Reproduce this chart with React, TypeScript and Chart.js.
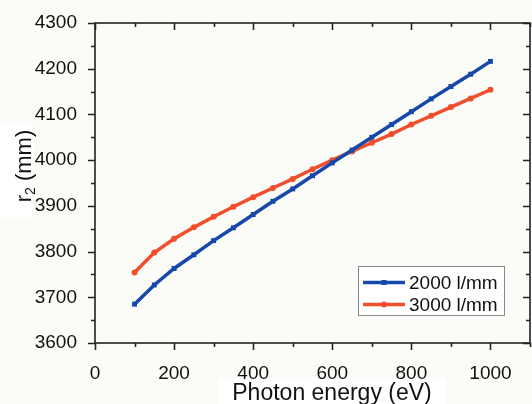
import React, { useEffect, useRef } from "react";
import { Chart, registerables } from "chart.js";

Chart.register(...registerables);

const energies = [100, 150, 200, 250, 300, 350, 400, 450, 500, 550, 600, 650, 700, 750, 800, 850, 900, 950, 1000];
const r2_2000 = [3685, 3727, 3763, 3793, 3824, 3852, 3881, 3910, 3937, 3966, 3994, 4022, 4050, 4078, 4106, 4134, 4161, 4188, 4216];
const r2_3000 = [3754, 3798, 3828, 3853, 3876, 3898, 3919, 3939, 3959, 3980, 4000, 4019, 4038, 4057, 4078, 4097, 4116, 4135, 4154];
const xTickValues = [0, 200, 400, 600, 800, 1000];
const seriesLabels = ["2000 l/mm", "3000 l/mm"];
const xTitle = "Photon energy (eV)";
const yTitleMain = "r";
const yTitleSub = "2";
const yTitleRest = " (mm)";

const FONT = "'Liberation Sans', Arial, Helvetica, sans-serif";
const BLUE = "rgb(22,72,170)";
const RED = "rgb(240,78,44)";

const framePlugin = {
  id: "framePlugin",
  beforeDraw(chart: any) {
    const { ctx, width, height } = chart;
    ctx.save();
    ctx.fillStyle = "#fbfbf8";
    ctx.fillRect(0, 0, width, height);
    ctx.fillStyle = "#ffffff";
    ctx.fillRect(0, 122, 33, 96);
    ctx.fillRect(218, 378, 228, 26);
    ctx.restore();
  },
  afterDraw(chart: any) {
    const { ctx, chartArea, scales } = chart;
    const { left, right, top, bottom } = chartArea;
    const xs = scales.x;
    const ys = scales.y;
    ctx.save();
    ctx.strokeStyle = "#222222";
    ctx.lineWidth = 1.6;
    ctx.strokeRect(left, top, right - left, bottom - top);
    ctx.beginPath();
    for (let v = 0; v <= 1100; v += 100) {
      const px = Math.round(xs.getPixelForValue(v)) + 0.5;
      const len = v % 200 === 0 ? 7 : 4;
      ctx.moveTo(px, bottom);
      ctx.lineTo(px, bottom + len);
      ctx.moveTo(px, top);
      ctx.lineTo(px, top + len);
    }
    for (let v = 3600; v <= 4300; v += 50) {
      const py = Math.round(ys.getPixelForValue(v)) + 0.5;
      const len = v % 100 === 0 ? 7 : 4;
      ctx.moveTo(left, py);
      ctx.lineTo(left - len, py);
      ctx.moveTo(right, py);
      ctx.lineTo(right - len, py);
    }
    ctx.stroke();

    // axis titles
    ctx.fillStyle = "#111111";
    ctx.font = `23px ${FONT}`;
    ctx.textAlign = "center";
    ctx.textBaseline = "alphabetic";
    ctx.fillText(xTitle, 332, 400);

    ctx.save();
    ctx.translate(31, 166);
    ctx.rotate(-Math.PI / 2);
    ctx.font = `22px ${FONT}`;
    const wMain = ctx.measureText(yTitleMain).width;
    const wRest = ctx.measureText(yTitleRest).width;
    ctx.font = `14px ${FONT}`;
    const wSub = ctx.measureText(yTitleSub).width;
    const total = wMain + wSub + wRest;
    let cx = -total / 2;
    ctx.textAlign = "left";
    ctx.font = `22px ${FONT}`;
    ctx.fillText(yTitleMain, cx, 0);
    cx += wMain;
    ctx.font = `14px ${FONT}`;
    ctx.fillText(yTitleSub, cx, 4);
    cx += wSub;
    ctx.font = `22px ${FONT}`;
    ctx.fillText(yTitleRest, cx, 0);
    ctx.restore();

    // legend
    const bx = 358, by = 266, bw = 146, bh = 49;
    ctx.fillStyle = "#ffffff";
    ctx.fillRect(bx, by, bw, bh);
    ctx.strokeStyle = "#8a8a8a";
    ctx.lineWidth = 1;
    ctx.strokeRect(bx + 0.5, by + 0.5, bw, bh);
    const rows = [282.5, 304.5];
    chart.data.datasets.forEach((ds: any, i: number) => {
      const ry = rows[i];
      ctx.strokeStyle = ds.borderColor;
      ctx.lineWidth = 3.5;
      ctx.beginPath();
      ctx.moveTo(363, ry);
      ctx.lineTo(405, ry);
      ctx.stroke();
      ctx.fillStyle = ds.borderColor;
      if (ds.pointStyle === "rect") {
        ctx.fillRect(384 - 2.5, ry - 2.5, 5, 5);
      } else {
        ctx.beginPath();
        ctx.arc(384, ry, 3, 0, Math.PI * 2);
        ctx.fill();
      }
      ctx.fillStyle = "#111111";
      ctx.font = `19px ${FONT}`;
      ctx.textAlign = "left";
      ctx.textBaseline = "middle";
      ctx.fillText(ds.label, 409, ry + 1);
    });
    ctx.restore();
  },
};

export default function App() {
  const ref = useRef<HTMLCanvasElement>(null);
  useEffect(() => {
    document.body.style.margin = "0";
    if (!ref.current) return;
    const chart = new Chart(ref.current, {
      type: "line",
      data: {
        datasets: [
          {
            label: seriesLabels[0],
            data: energies.map((e, i) => ({ x: e, y: r2_2000[i] })),
            borderColor: BLUE,
            backgroundColor: BLUE,
            borderWidth: 3.5,
            pointStyle: "rect",
            pointRadius: 3.5,
            pointBorderWidth: 0,
            tension: 0,
          },
          {
            label: seriesLabels[1],
            data: energies.map((e, i) => ({ x: e, y: r2_3000[i] })),
            borderColor: RED,
            backgroundColor: RED,
            borderWidth: 3.5,
            pointStyle: "circle",
            pointRadius: 3,
            pointBorderWidth: 0,
            tension: 0,
          },
        ],
      },
      options: {
        responsive: false,
        animation: false,
        layout: { padding: { left: 0, top: 23, right: 1, bottom: 0 } },
        plugins: { legend: { display: false }, tooltip: { enabled: false } },
        scales: {
          x: {
            type: "linear",
            min: 0,
            max: 1100,
            grid: { display: false },
            border: { display: false },
            ticks: {
              stepSize: 200,
              padding: 11,
              color: "#111111",
              font: { family: FONT, size: 19 },
              maxRotation: 0,
              callback: (v: any) => String(v),
            },
            afterBuildTicks: (scale: any) => {
              scale.ticks = xTickValues.map((v) => ({ value: v }));
            },
            afterFit: (scale: any) => {
              scale.height = 61;
            },
          },
          y: {
            type: "linear",
            min: 3600,
            max: 4300,
            grid: { display: false },
            border: { display: false },
            ticks: {
              stepSize: 100,
              padding: 10,
              color: "#111111",
              font: { family: FONT, size: 19 },
              callback: (v: any) => String(v),
            },
            afterFit: (scale: any) => {
              scale.width = 95;
            },
          },
        },
      },
      plugins: [framePlugin],
    } as any);
    return () => chart.destroy();
  }, []);
  return (
    <div style={{ position: "absolute", left: 0, top: 0, width: 532, height: 404, overflow: "hidden" }}>
      <canvas ref={ref} width={534} height={404} style={{ display: "block" }} />
    </div>
  );
}
